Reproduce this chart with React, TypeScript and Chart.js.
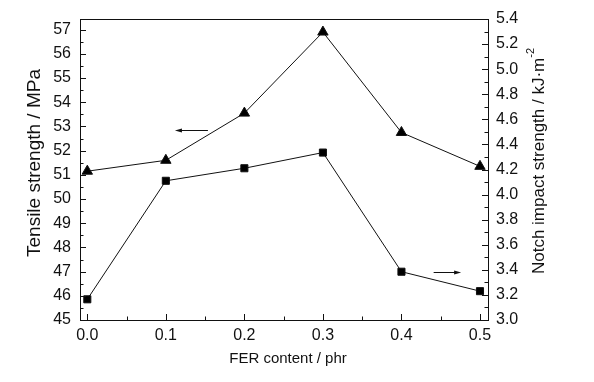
import React, { useEffect, useRef } from "react";
import { Chart, registerables } from "chart.js";

Chart.register(...registerables);

const FER_CONTENT = [0.0, 0.1, 0.2, 0.3, 0.4, 0.5];
const TENSILE = [51.15, 51.6, 53.55, 56.9, 52.75, 51.35];
const IMPACT = [3.165, 4.11, 4.21, 4.335, 3.385, 3.23];
const X_TICKS = [0.0, 0.1, 0.2, 0.3, 0.4, 0.5];
const LEFT_TICKS = [45, 46, 47, 48, 49, 50, 51, 52, 53, 54, 55, 56, 57];
const RIGHT_TICKS = [3.0, 3.2, 3.4, 3.6, 3.8, 4.0, 4.2, 4.4, 4.6, 4.8, 5.0, 5.2, 5.4];
const X_TITLE = "FER content / phr";
const LEFT_TITLE = "Tensile strength / MPa";
const RIGHT_TITLE = "Notch impact strength / kJ·m";
const RIGHT_TITLE_SUP = "-2";
// arrows: [x start, x end, y value] (head at x end)
const LEFT_ARROW = [0.1536, 0.1116, 52.85];
const RIGHT_ARROW = [0.441, 0.476, 3.385];

const FONT = "'Liberation Sans', Arial, sans-serif";
const INK = "#111";

const decorPlugin = {
  id: "decor",
  afterDraw(chart: any) {
    const { ctx, chartArea } = chart;
    const x = chart.scales.x;
    const yL = chart.scales.yL;
    const yR = chart.scales.yR;
    ctx.save();
    ctx.strokeStyle = INK;
    ctx.lineWidth = 1;
    ctx.beginPath();
    ctx.moveTo(chartArea.left, chartArea.top + 0.5);
    ctx.lineTo(chartArea.right, chartArea.top + 0.5);
    ctx.stroke();
    const major = 6;
    const minor = 3.5;
    ctx.beginPath();
    X_TICKS.forEach((v, i) => {
      const px = Math.round(x.getPixelForValue(v)) + 0.5;
      ctx.moveTo(px, chartArea.bottom);
      ctx.lineTo(px, chartArea.bottom - major);
      if (i < X_TICKS.length - 1) {
        const mx = Math.round(x.getPixelForValue((v + X_TICKS[i + 1]) / 2)) + 0.5;
        ctx.moveTo(mx, chartArea.bottom);
        ctx.lineTo(mx, chartArea.bottom - minor);
      }
    });
    LEFT_TICKS.forEach((v, i) => {
      const py = Math.round(yL.getPixelForValue(v)) + 0.5;
      ctx.moveTo(chartArea.left, py);
      ctx.lineTo(chartArea.left + major, py);
      if (i < LEFT_TICKS.length - 1) {
        const my = Math.round(yL.getPixelForValue((v + LEFT_TICKS[i + 1]) / 2)) + 0.5;
        ctx.moveTo(chartArea.left, my);
        ctx.lineTo(chartArea.left + minor, my);
      }
    });
    RIGHT_TICKS.forEach((v, i) => {
      const py = Math.round(yR.getPixelForValue(v)) + 0.5;
      ctx.moveTo(chartArea.right, py);
      ctx.lineTo(chartArea.right - major, py);
      if (i < RIGHT_TICKS.length - 1) {
        const my = Math.round(yR.getPixelForValue((v + RIGHT_TICKS[i + 1]) / 2)) + 0.5;
        ctx.moveTo(chartArea.right, my);
        ctx.lineTo(chartArea.right - minor, my);
      }
    });
    ctx.stroke();

    const drawArrow = (a: number[], scale: any) => {
      const x0 = x.getPixelForValue(a[0]);
      const x1 = x.getPixelForValue(a[1]);
      const py = Math.round(scale.getPixelForValue(a[2])) + 0.5;
      const dir = Math.sign(x1 - x0);
      ctx.beginPath();
      ctx.moveTo(x0, py);
      ctx.lineTo(x1 - dir * 4, py);
      ctx.stroke();
      ctx.fillStyle = INK;
      ctx.beginPath();
      ctx.moveTo(x1, py);
      ctx.lineTo(x1 - dir * 7, py - 2);
      ctx.lineTo(x1 - dir * 7, py + 2);
      ctx.closePath();
      ctx.fill();
    };
    drawArrow(LEFT_ARROW, yL);
    drawArrow(RIGHT_ARROW, yR);

    ctx.fillStyle = INK;
    ctx.textAlign = "center";
    ctx.textBaseline = "middle";
    ctx.font = `15px ${FONT}`;
    ctx.fillText(X_TITLE, 288, 359);

    ctx.save();
    ctx.translate(35, 163);
    ctx.rotate(-Math.PI / 2);
    ctx.font = `19px ${FONT}`;
    ctx.fillText(LEFT_TITLE, 0, 0);
    ctx.restore();

    ctx.save();
    ctx.translate(539, 161);
    ctx.rotate(-Math.PI / 2);
    ctx.font = `17px ${FONT}`;
    const mainW = ctx.measureText(RIGHT_TITLE).width;
    ctx.font = `11px ${FONT}`;
    const supW = ctx.measureText(RIGHT_TITLE_SUP).width;
    const total = mainW + supW;
    ctx.textAlign = "left";
    ctx.font = `17px ${FONT}`;
    ctx.fillText(RIGHT_TITLE, -total / 2, 0);
    ctx.font = `11px ${FONT}`;
    ctx.fillText(RIGHT_TITLE_SUP, -total / 2 + mainW, -8);
    ctx.restore();

    ctx.restore();
  },
};

export default function App() {
  const ref = useRef<HTMLCanvasElement | null>(null);
  useEffect(() => {
    if (!ref.current) return;
    const tickFont = { family: FONT, size: 16 };
    const chart = new Chart(ref.current, {
      type: "scatter",
      data: {
        datasets: [
          {
            label: "Tensile strength",
            data: FER_CONTENT.map((v, i) => ({ x: v, y: TENSILE[i] })),
            yAxisID: "yL",
            showLine: true,
            borderColor: INK,
            backgroundColor: "#000",
            borderWidth: 1,
            pointStyle: "triangle",
            pointRadius: 6,
            pointBorderWidth: 1,
          },
          {
            label: "Notch impact strength",
            data: FER_CONTENT.map((v, i) => ({ x: v, y: IMPACT[i] })),
            yAxisID: "yR",
            showLine: true,
            borderColor: INK,
            backgroundColor: "#000",
            borderWidth: 1,
            pointStyle: "rect",
            pointRadius: 5,
            pointBorderWidth: 1,
          },
        ],
      },
      options: {
        animation: false,
        responsive: true,
        maintainAspectRatio: false,
        layout: { padding: { top: 19, left: 0, right: 0, bottom: 0 } },
        plugins: { legend: { display: false }, tooltip: { enabled: false } },
        scales: {
          x: {
            type: "linear",
            position: "bottom",
            min: -0.0093,
            max: 0.5102,
            afterBuildTicks: (s: any) => {
              s.ticks = X_TICKS.map((v) => ({ value: v }));
            },
            afterFit: (s: any) => {
              s.height = 62;
            },
            ticks: {
              font: tickFont,
              color: INK,
              padding: 6,
              maxRotation: 0,
              callback: (v: any) => Number(v).toFixed(1),
            },
            grid: { display: false, drawTicks: false },
            border: { display: true, color: INK, width: 1 },
          },
          yL: {
            type: "linear",
            position: "left",
            min: 45,
            max: 57.44,
            afterBuildTicks: (s: any) => {
              s.ticks = LEFT_TICKS.map((v) => ({ value: v }));
            },
            afterFit: (s: any) => {
              s.width = 80;
            },
            ticks: {
              font: tickFont,
              color: INK,
              padding: 9,
              callback: (v: any) => String(v),
            },
            grid: { display: false, drawTicks: false },
            border: { display: true, color: INK, width: 1 },
          },
          yR: {
            type: "linear",
            position: "right",
            min: 3.0,
            max: 5.4,
            afterBuildTicks: (s: any) => {
              s.ticks = RIGHT_TICKS.map((v) => ({ value: v }));
            },
            afterFit: (s: any) => {
              s.width = 106;
            },
            ticks: {
              font: tickFont,
              color: INK,
              padding: 8,
              callback: (v: any) => Number(v).toFixed(1),
            },
            grid: { display: false, drawTicks: false },
            border: { display: true, color: INK, width: 1 },
          },
        },
      },
      plugins: [decorPlugin],
    });
    return () => chart.destroy();
  }, []);
  return (
    <div style={{ position: "absolute", left: 0, top: 0, width: 594, height: 382, background: "#fff" }}>
      <canvas ref={ref} />
    </div>
  );
}
